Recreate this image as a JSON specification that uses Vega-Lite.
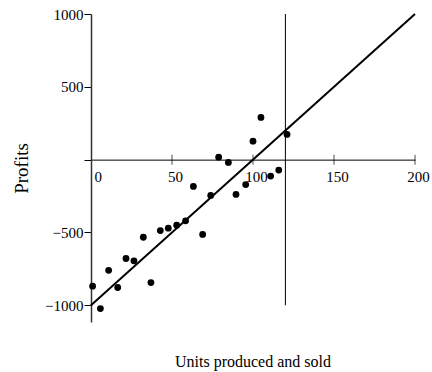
{
  "$schema": "https://vega.github.io/schema/vega-lite/v6.json",
  "width": 324,
  "height": 308,
  "autosize": "none",
  "padding": {"left": 91, "top": 14, "right": 17, "bottom": 50},
  "config": {
    "view": {"stroke": null},
    "font": "Liberation Serif",
    "axis": {"grid": false, "labelColor": "black", "titleColor": "black", "domainColor": "black", "tickColor": "black", "labelFont": "Liberation Serif", "titleFont": "Liberation Serif", "labelFontSize": 15, "titleFontSize": 19, "titleFontWeight": "normal", "domainWidth": 1, "tickWidth": 1}
  },
  "title": {"text": "Units produced and sold", "orient": "bottom", "anchor": "middle", "offset": 32, "fontSize": 16, "fontWeight": "normal", "font": "Liberation Serif", "color": "black"},
  "datasets": {
    "points": [
      {"units": 1, "profit": -869}, {"units": 5.8, "profit": -1023}, {"units": 10.9, "profit": -760},
      {"units": 16.5, "profit": -878}, {"units": 21.6, "profit": -679}, {"units": 26.5, "profit": -695},
      {"units": 32.3, "profit": -533}, {"units": 37, "profit": -844}, {"units": 42.8, "profit": -487},
      {"units": 47.7, "profit": -471}, {"units": 52.9, "profit": -450}, {"units": 58.4, "profit": -420},
      {"units": 63.2, "profit": -184}, {"units": 68.9, "profit": -514}, {"units": 73.9, "profit": -246},
      {"units": 78.8, "profit": 17}, {"units": 84.8, "profit": -19}, {"units": 89.5, "profit": -239},
      {"units": 95.5, "profit": -171}, {"units": 100, "profit": 127}, {"units": 104.9, "profit": 290},
      {"units": 110.9, "profit": -113}, {"units": 115.9, "profit": -72}, {"units": 121, "profit": 173}
    ],
    "fit": [{"units": 0, "profit": -1000}, {"units": 200, "profit": 1000}],
    "marker": [{"units": 120, "top": 1000, "bottom": -1000}],
    "xticks": [{"units": 50}, {"units": 100}, {"units": 150}, {"units": 200}]
  },
  "layer": [
    {
      "data": {"name": "xticks"},
      "mark": {"type": "tick", "orient": "vertical", "size": 10, "thickness": 1, "color": "black"},
      "encoding": {
        "x": {"field": "units", "type": "quantitative", "scale": {"domain": [0, 200], "nice": false, "zero": false},
          "axis": {"orient": "bottom", "offset": {"expr": "scale('y', 0) - height"}, "values": [0, 50, 100, 150, 200], "ticks": false, "tickSize": 0, "labelPadding": 10, "labelOffset": 3, "labelAlign": {"condition": {"test": "datum.value == 0", "value": "left"}, "value": "center"}, "title": null, "format": "d"}},
        "y": {"datum": 0, "type": "quantitative", "scale": {"domain": [-1115, 1000], "nice": false, "zero": false},
          "axis": {"values": [-1000, -500, 0, 500, 1000], "tickSize": 7, "labelPadding": 1, "format": "d", "labelExpr": "datum.value == 0 ? '' : datum.label", "title": "Profits", "titlePadding": 13, "domainWidth": 1.5, "domainColor": "#333333"}}
      }
    },
    {
      "data": {"name": "marker"},
      "mark": {"type": "rule", "color": "black", "strokeWidth": 1},
      "encoding": {
        "x": {"field": "units", "type": "quantitative"},
        "y": {"field": "top", "type": "quantitative"},
        "y2": {"field": "bottom"}
      }
    },
    {
      "data": {"name": "fit"},
      "mark": {"type": "line", "color": "black", "strokeWidth": 2},
      "encoding": {
        "x": {"field": "units", "type": "quantitative"},
        "y": {"field": "profit", "type": "quantitative"}
      }
    },
    {
      "data": {"name": "points"},
      "mark": {"type": "point", "shape": "circle", "filled": true, "color": "black", "opacity": 1, "size": 46},
      "encoding": {
        "x": {"field": "units", "type": "quantitative"},
        "y": {"field": "profit", "type": "quantitative"}
      }
    }
  ]
}
